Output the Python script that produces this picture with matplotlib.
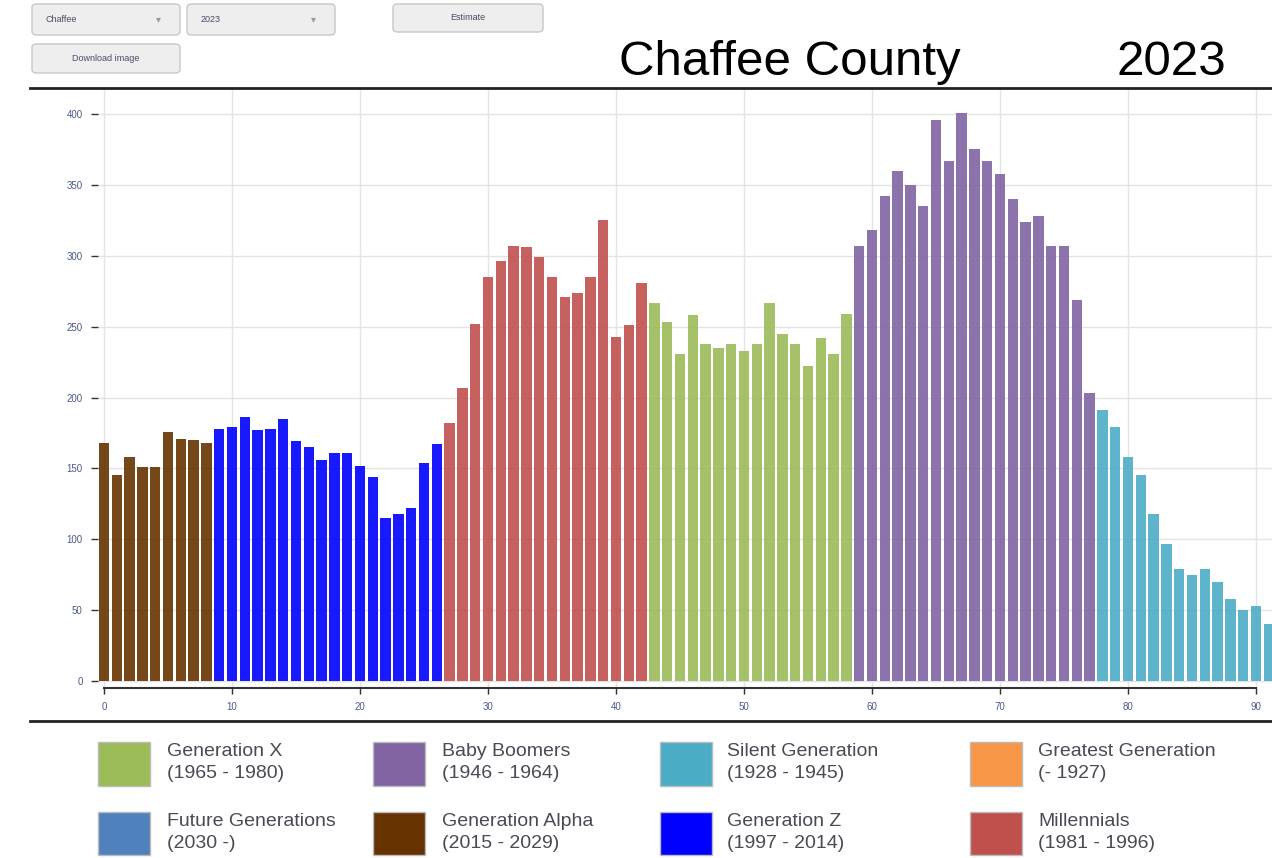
import matplotlib
matplotlib.use("Agg")
import matplotlib.pyplot as plt
from matplotlib.patches import FancyBboxPatch, Rectangle
from matplotlib.lines import Line2D
import numpy as np

plt.rcParams['font.family'] = ['Liberation Sans', 'DejaVu Sans']

# ---------------- data ----------------
county = "Chaffee County"
year = 2023

# population by single year of age, per generation (youngest first)
gen_alpha_pop = [168, 145, 158, 151, 151, 176, 171, 170, 168]                    # ages 0-8
gen_z_pop = [178, 179, 186, 177, 178, 185, 169, 165, 156, 161, 161, 152, 144,
             115, 118, 122, 154, 167]                                            # ages 9-26
millennials_pop = [182, 207, 252, 285, 296, 307, 306, 299, 285, 271, 274, 285,
                   325, 243, 251, 281]                                           # ages 27-42
gen_x_pop = [267, 253, 231, 258, 238, 235, 238, 233, 238, 267, 245, 238, 222,
             242, 231, 259]                                                      # ages 43-58
boomers_pop = [307, 318, 342, 360, 350, 335, 396, 367, 401, 375, 367, 358, 340,
               324, 328, 307, 307, 269, 203]                                     # ages 59-77
silent_pop = [191, 179, 158, 145, 118, 97, 79, 75, 79, 70, 58, 50, 53, 40]        # ages 78-91

bar_groups = [gen_alpha_pop, gen_z_pop, millennials_pop, gen_x_pop, boomers_pop, silent_pop]
bar_colors = ['#663300', '#0000FF', '#C0504D', '#9BBB59', '#8064A2', '#4BACC6']

legend_names = ['Generation X', 'Baby Boomers', 'Silent Generation', 'Greatest Generation',
                'Future Generations', 'Generation Alpha', 'Generation Z', 'Millennials']
legend_years = ['(1965 - 1980)', '(1946 - 1964)', '(1928 - 1945)', '(- 1927)',
                '(2030 -)', '(2015 - 2029)', '(1997 - 2014)', '(1981 - 1996)']
legend_colors = ['#9BBB59', '#8064A2', '#4BACC6', '#F79646',
                 '#4F81BD', '#663300', '#0000FF', '#C0504D']

x_ticks = [0, 10, 20, 30, 40, 50, 60, 70, 80, 90]
y_ticks = [0, 50, 100, 150, 200, 250, 300, 350, 400]

# ---------------- figure ----------------
W, H = 1272, 858
fig = plt.figure(figsize=(W / 100, H / 100), dpi=100)
fig.patch.set_facecolor('white')


def fx(px):
    return px / W


def fy(py):
    return 1 - py / H


# main axes
ax_left, ax_right, ax_top, ax_bottom = 98, 1272, 88, 695
ax = fig.add_axes([fx(ax_left), fy(ax_bottom), fx(ax_right - ax_left), (ax_bottom - ax_top) / H])
ax.set_facecolor('white')

start = 0
for pops, col in zip(bar_groups, bar_colors):
    ages = np.arange(start, start + len(pops))
    ax.bar(ages, pops, width=0.8, color=col, alpha=0.9, linewidth=0, zorder=3)
    start += len(pops)

px_per_year = 12.8
px_per_unit = 567 / 400.0
x0_px, y0_px = 104, 681
ax.set_xlim((ax_left - x0_px) / px_per_year, (ax_right - x0_px) / px_per_year)
ax.set_ylim(-(ax_bottom - y0_px) / px_per_unit, (y0_px - ax_top) / px_per_unit)

ax.set_xticks(x_ticks)
ax.set_yticks(y_ticks)
ax.grid(True, color='#e4e4e4', linewidth=1, zorder=0)
ax.set_axisbelow(True)

for s in ['top', 'right', 'left']:
    ax.spines[s].set_visible(False)
ax.spines['bottom'].set_position(('data', -(688 - y0_px) / px_per_unit))
ax.spines['bottom'].set_bounds(0, 90)
ax.spines['bottom'].set_color('#333333')
ax.spines['bottom'].set_linewidth(1.5)

ax.tick_params(axis='x', length=4, width=1, color='#333333', labelsize=7,
               labelcolor='#4a5a8a', pad=6)
ax.tick_params(axis='y', length=5, width=1, color='#333333', labelsize=7,
               labelcolor='#4a5a8a', pad=6)

# ---------------- title ----------------
fig.text(fx(790), fy(75), county, fontsize=35.5, ha='center', va='baseline', color='black')
fig.text(fx(1171), fy(75), str(year), fontsize=35.5, ha='center', va='baseline', color='black')

# horizontal rules
fig.add_artist(Line2D([fx(30), fx(1272)], [fy(88), fy(88)], color='#222222', linewidth=2))
fig.add_artist(Line2D([fx(30), fx(1272)], [fy(721), fy(721)], color='#222222', linewidth=2))

# ---------------- controls ----------------
def control(x1, y1, x2, y2, text, ha='center', arrow=False):
    box = FancyBboxPatch((fx(x1), fy(y2)), fx(x2 - x1), (y2 - y1) / H,
                         boxstyle='round,pad=0,rounding_size=0.004',
                         transform=fig.transFigure, facecolor='#eeeeee',
                         edgecolor='#c8c8c8', linewidth=1)
    fig.add_artist(box)
    ym = fy((y1 + y2) / 2)
    if ha == 'left':
        fig.text(fx(x1 + 14), ym, text, fontsize=6.5, ha='left', va='center', color='#4a4a6a')
    else:
        fig.text(fx((x1 + x2) / 2), ym, text, fontsize=6.5, ha='center', va='center', color='#4a4a6a')
    if arrow:
        fig.text(fx(x2 - 22), ym, '\u25BE', fontsize=7, ha='center', va='center', color='#999999',
                 family=['DejaVu Sans'])


control(32, 4, 180, 35, 'Chaffee', ha='left', arrow=True)
control(187, 4, 335, 35, '2023', ha='left', arrow=True)
control(393, 4, 543, 32, 'Estimate')
control(32, 44, 180, 73, 'Download image')

# ---------------- legend ----------------
col_sw = [98, 373, 660, 970]
col_tx = [167, 442, 727, 1038]
row_sw = [(742, 786), (812, 855)]
row_tx = [(752, 774), (822, 844)]
for i, (nm, yr, c) in enumerate(zip(legend_names, legend_years, legend_colors)):
    r, k = divmod(i, 4)
    y1, y2 = row_sw[r]
    fig.add_artist(Rectangle((fx(col_sw[k]), fy(y2)), fx(52), (y2 - y1) / H,
                             transform=fig.transFigure, facecolor=c,
                             edgecolor='#bbbbbb', linewidth=1))
    fig.text(fx(col_tx[k]), fy(row_tx[r][0]), nm, fontsize=14, ha='left', va='center', color='#4a4a55')
    fig.text(fx(col_tx[k]), fy(row_tx[r][1]), yr, fontsize=14, ha='left', va='center', color='#4a4a55')

fig.savefig('out.png', dpi=100)
